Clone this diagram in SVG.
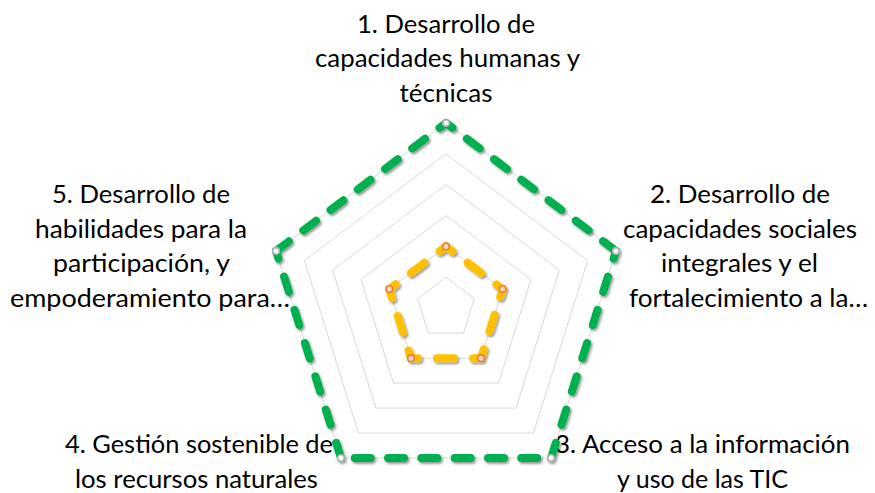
<svg xmlns="http://www.w3.org/2000/svg" width="875" height="493" viewBox="0 0 875 493">
<style>
.lbl{font-family:Lato,"Liberation Sans",sans-serif;font-size:25.5px;fill:#000}
.grid{fill:none;stroke:#d9d9d9;stroke-width:1}
.g{stroke:#00B050;stroke-width:8;stroke-linecap:round;fill:none}
.o{stroke:#FFC000;stroke-width:8;stroke-linecap:round;fill:none;stroke-dasharray:17 19}
.mg{fill:#ffffff;stroke:#b0b0b0;stroke-width:1.6}
.mo{fill:#fbd9c4;stroke:#ed7d31;stroke-width:1.6}
</style>
<defs>
<filter id="sh" x="-10%" y="-10%" width="120%" height="120%">
<feDropShadow dx="1.5" dy="2" stdDeviation="1.2" flood-color="#000" flood-opacity="0.4"/>
</filter>
</defs>
<rect width="875" height="493" fill="#fff"/>
<g id="labels" text-anchor="middle">
<g id="axis1">
<text class="lbl" x="446" y="33" textLength="178" lengthAdjust="spacingAndGlyphs">1. Desarrollo de</text>
<text class="lbl" x="447.5" y="67.3" textLength="265" lengthAdjust="spacingAndGlyphs">capacidades humanas y</text>
<text class="lbl" x="446" y="101.6" textLength="93" lengthAdjust="spacingAndGlyphs">técnicas</text>
</g>
<g id="axis2">
<text class="lbl" x="740" y="203" textLength="180" lengthAdjust="spacingAndGlyphs">2. Desarrollo de</text>
<text class="lbl" x="740" y="237.5" textLength="234" lengthAdjust="spacingAndGlyphs">capacidades sociales</text>
<text class="lbl" x="739.5" y="272" textLength="157" lengthAdjust="spacingAndGlyphs">integrales y el</text>
<text class="lbl" x="629" y="306.5" text-anchor="start" textLength="239" lengthAdjust="spacingAndGlyphs">fortalecimiento a la…</text>
</g>
<g id="axis3">
<text class="lbl" x="702.5" y="453" textLength="295" lengthAdjust="spacingAndGlyphs">3. Acceso a la información</text>
<text class="lbl" x="702.5" y="487.5" textLength="171" lengthAdjust="spacingAndGlyphs">y uso de las TIC</text>
</g>
<g id="axis4">
<text class="lbl" x="199" y="453" textLength="268" lengthAdjust="spacingAndGlyphs">4. Gestión sostenible de</text>
<text class="lbl" x="196.5" y="487.5" textLength="243" lengthAdjust="spacingAndGlyphs">los recursos naturales</text>
</g>
<g id="axis5">
<text class="lbl" x="141" y="203" textLength="178" lengthAdjust="spacingAndGlyphs">5. Desarrollo de</text>
<text class="lbl" x="141" y="237.5" textLength="212" lengthAdjust="spacingAndGlyphs">habilidades para la</text>
<text class="lbl" x="141.5" y="272" textLength="177" lengthAdjust="spacingAndGlyphs">participación, y</text>
<text class="lbl" x="10" y="306.5" text-anchor="start" textLength="280" lengthAdjust="spacingAndGlyphs">empoderamiento para…</text>
</g>
</g>
<g id="grid">
<polygon class="grid" points="446,123 615.96,250.97 551.04,458.03 340.96,458.03 276.04,250.97"/>
<polygon class="grid" points="446,153.87 587.63,260.51 533.53,433.06 358.47,433.06 304.37,260.51"/>
<polygon class="grid" points="446,184.73 559.31,270.05 516.03,408.09 375.97,408.09 332.69,270.05"/>
<polygon class="grid" points="446,215.6 530.98,279.58 498.52,383.12 393.48,383.12 361.02,279.58"/>
<polygon class="grid" points="446,246.47 502.65,289.12 481.01,358.14 410.99,358.14 389.35,289.12"/>
<polygon class="grid" points="446,277.33 474.33,298.66 463.51,333.17 428.49,333.17 417.67,298.66"/>
</g>
<g id="connectors" filter="url(#sh)">
<g id="series-green">
<line class="g" x1="446" y1="123" x2="615.96" y2="250.97" stroke-dasharray="16 18.1" stroke-dashoffset="8"/>
<line class="g" x1="615.96" y1="250.97" x2="551.04" y2="458.03" stroke-dasharray="16 18.83" stroke-dashoffset="8"/>
<line class="g" x1="551.04" y1="458.03" x2="340.96" y2="458.03" stroke-dasharray="16 17.3" stroke-dashoffset="19.5"/>
<line class="g" x1="340.96" y1="458.03" x2="276.04" y2="250.97" stroke-dasharray="16 18.83"/>
<line class="g" x1="276.04" y1="250.97" x2="446" y2="123" stroke-dasharray="16 18.1"/>
</g>
<g id="series-orange">
<line class="o" x1="446" y1="246.47" x2="502.65" y2="289.12" stroke-dasharray="17 18.96" stroke-dashoffset="9"/>
<line class="o" x1="502.65" y1="289.12" x2="481.01" y2="358.14" stroke-dasharray="17 19.67" stroke-dashoffset="9"/>
<line class="o" x1="481.01" y1="358.14" x2="410.99" y2="358.14" stroke-dasharray="17 18.51" stroke-dashoffset="9"/>
<line class="o" x1="410.99" y1="358.14" x2="389.35" y2="289.12" stroke-dasharray="17 19.67" stroke-dashoffset="9"/>
<line class="o" x1="389.35" y1="289.12" x2="446" y2="246.47" stroke-dasharray="17 18.96" stroke-dashoffset="9"/>
</g>
<g id="markers-green">
<circle class="mg" cx="446" cy="123" r="3.3"/>
<circle class="mg" cx="615.96" cy="250.97" r="3.3"/>
<circle class="mg" cx="551.04" cy="458.03" r="3.3"/>
<circle class="mg" cx="340.96" cy="458.03" r="3.3"/>
<circle class="mg" cx="276.04" cy="250.97" r="3.3"/>
</g>
<g id="markers-orange">
<circle class="mo" cx="446" cy="246.47" r="3.3"/>
<circle class="mo" cx="502.65" cy="289.12" r="3.3"/>
<circle class="mo" cx="481.01" cy="358.14" r="3.3"/>
<circle class="mo" cx="410.99" cy="358.14" r="3.3"/>
<circle class="mo" cx="389.35" cy="289.12" r="3.3"/>
</g>
</g>
</svg>
